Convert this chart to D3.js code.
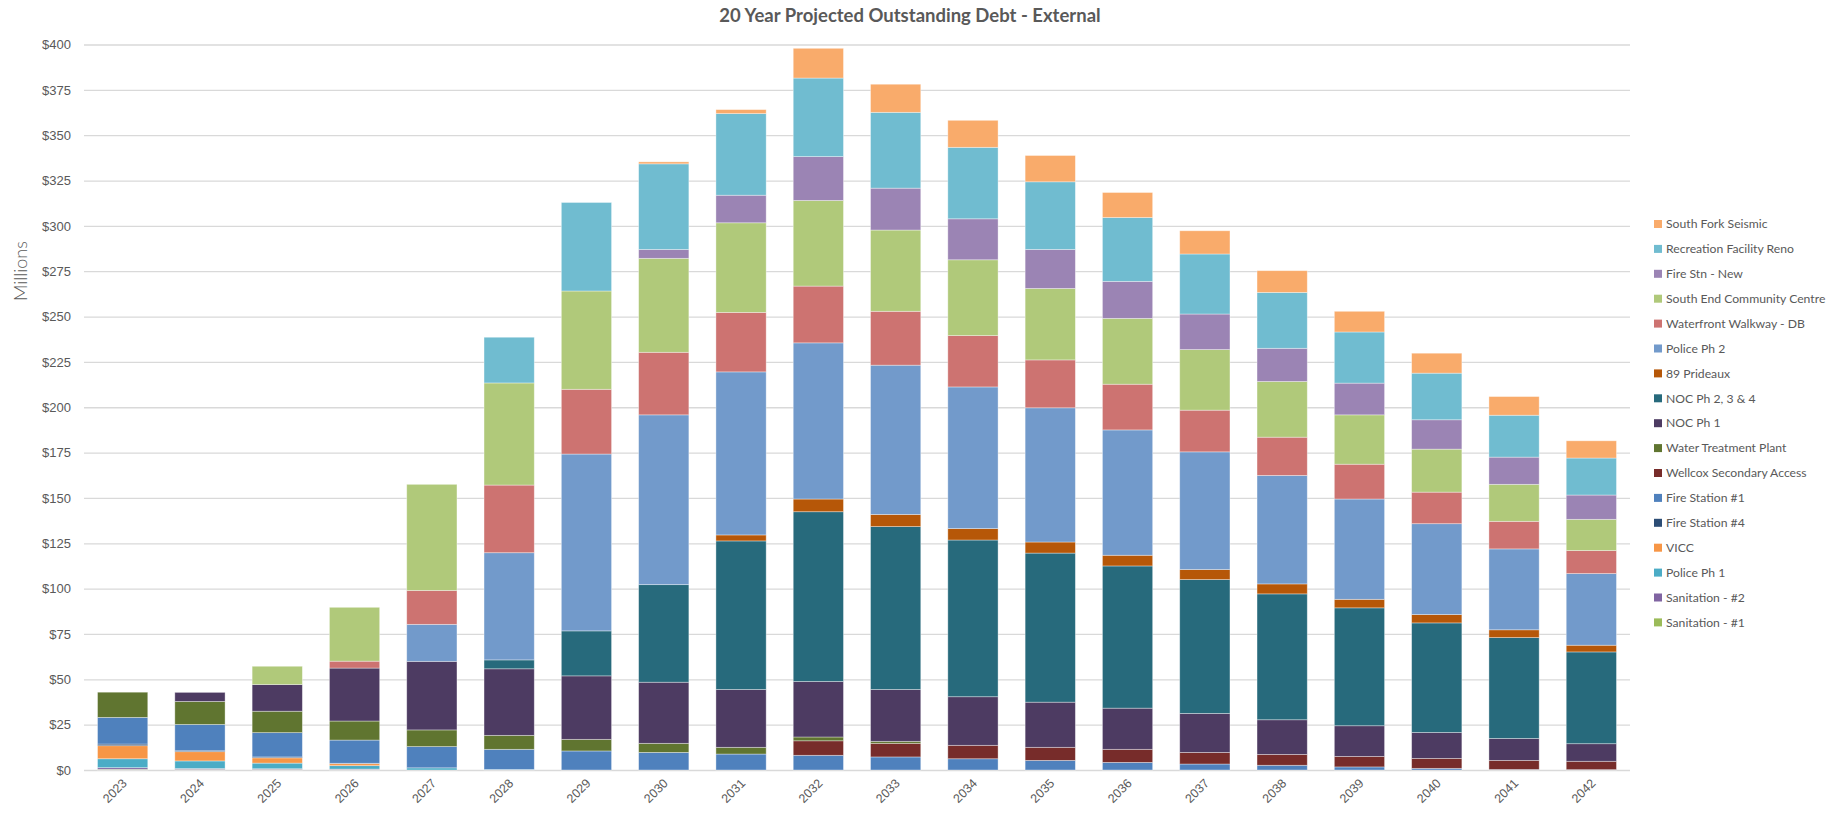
<!DOCTYPE html>
<html>
<head>
<meta charset="utf-8">
<script src="https://cdn.jsdelivr.net/npm/d3@7"></script>
<style>
    body { margin: 0; background: #fff; }
    svg { display: block; font-family: Lato, "Open Sans", sans-serif; }
</style>
</head>
<body>
<div id="chart"></div>
<script>
//Chart data - values in millions of dollars, one per year
var years = ["2023", "2024", "2025", "2026", "2027", "2028", "2029", "2030", "2031", "2032",
             "2033", "2034", "2035", "2036", "2037", "2038", "2039", "2040", "2041", "2042"];

var sanitation1   = [0.4, 0.3, 0.3, 0.2, 0, 0, 0, 0, 0, 0, 0, 0, 0, 0, 0, 0, 0, 0, 0, 0];
var sanitation2   = [0.9, 0.5, 0.4, 0.3, 0, 0, 0, 0, 0, 0, 0, 0, 0, 0, 0, 0, 0, 0, 0, 0];
var policePh1     = [4.9, 4.2, 3.1, 1.9, 1.2, 0.3, 0, 0, 0, 0, 0, 0, 0, 0, 0, 0, 0, 0, 0, 0];
var vicc          = [7.2, 5.1, 2.9, 1.1, 0, 0, 0, 0, 0, 0, 0, 0, 0, 0, 0, 0, 0, 0, 0, 0];
var fireStation4  = [0.9, 0.5, 0.5, 0.2, 0, 0, 0, 0, 0, 0, 0, 0, 0, 0, 0, 0, 0, 0, 0, 0];
var fireStation1  = [14.7, 14.5, 13.4, 12.8, 11.7, 11.1, 10.5, 9.7, 8.8, 8.1, 7.2, 6.2, 5.3, 4.2, 3.3, 2.6, 1.7, 0.9, 0.3, 0.2];
var wellcox       = [0, 0, 0, 0, 0, 0, 0, 0, 0, 8.0, 7.5, 7.4, 7.2, 7.2, 6.4, 6.0, 5.8, 5.5, 5.0, 4.6];
var waterPlant    = [13.9, 12.7, 11.8, 10.5, 9.2, 7.7, 6.4, 5.0, 3.7, 2.1, 1.1, 0, 0, 0, 0, 0, 0, 0, 0, 0];
var nocPh1        = [0, 5.0, 14.7, 29.2, 37.8, 36.7, 35.0, 33.7, 31.9, 30.6, 28.6, 26.8, 24.9, 22.7, 21.5, 19.1, 16.9, 14.3, 12.1, 9.7];
var nocPh234      = [0, 0, 0, 0, 0, 4.9, 24.8, 53.8, 81.9, 93.6, 89.8, 86.4, 82.2, 78.4, 73.8, 69.4, 65.0, 60.4, 55.6, 50.6];
var prideaux89    = [0, 0, 0, 0, 0, 0, 0, 0, 3.3, 7.0, 6.7, 6.3, 6.1, 5.9, 5.5, 5.5, 4.7, 4.6, 4.3, 3.7];
var policePh2     = [0, 0, 0, 0, 20.4, 59.1, 97.5, 93.6, 89.9, 86.1, 82.3, 78.1, 74.0, 69.1, 64.9, 59.8, 55.3, 50.1, 44.6, 39.5];
var waterfront    = [0, 0, 0, 3.8, 18.7, 37.3, 35.7, 34.5, 32.8, 31.3, 29.7, 28.3, 26.4, 25.2, 23.0, 21.1, 19.2, 17.4, 15.2, 12.7];
var southEnd      = [0, 0, 10.1, 29.7, 58.5, 56.3, 54.2, 51.8, 49.4, 47.2, 44.8, 41.8, 39.4, 36.3, 33.4, 30.7, 27.2, 23.7, 20.4, 17.2];
var fireStnNew    = [0, 0, 0, 0, 0, 0, 0, 4.9, 15.2, 24.2, 23.1, 22.6, 21.5, 20.4, 19.6, 18.3, 17.5, 16.2, 15.0, 13.4];
var recReno       = [0, 0, 0, 0, 0, 25.2, 48.8, 47.2, 45.0, 43.3, 41.8, 39.4, 37.3, 35.2, 33.1, 30.8, 28.2, 25.7, 23.1, 20.4];
var southFork     = [0, 0, 0, 0, 0, 0, 0, 1.1, 2.2, 16.4, 15.5, 14.9, 14.5, 13.8, 12.8, 12.0, 11.4, 11.0, 10.3, 9.5];

//Series names in stacking order (bottom to top)
var seriesNames = ["Sanitation - #1", "Sanitation - #2", "Police Ph 1", "VICC", "Fire Station #4",
                   "Fire Station #1", "Wellcox Secondary Access", "Water Treatment Plant", "NOC Ph 1",
                   "NOC Ph 2, 3 & 4", "89 Prideaux", "Police Ph 2", "Waterfront Walkway - DB",
                   "South End Community Centre", "Fire Stn - New", "Recreation Facility Reno", "South Fork Seismic"];
var seriesValues = [sanitation1, sanitation2, policePh1, vicc, fireStation4, fireStation1, wellcox,
                    waterPlant, nocPh1, nocPh234, prideaux89, policePh2, waterfront, southEnd,
                    fireStnNew, recReno, southFork];

var yTicks = [0, 25, 50, 75, 100, 125, 150, 175, 200, 225, 250, 275, 300, 325, 350, 375, 400];

//Colours, same order as the series
var colors = ["#9BBB59", "#8064A2", "#4BACC6", "#F79646", "#2C4D75", "#4F81BD", "#772C2A",
              "#607530", "#4D3B62", "#276A7C", "#B65708", "#729ACB", "#CD7371", "#B0C97A",
              "#9B84B4", "#70BCD0", "#F9AB6B"];

//Layout
var width = 1848, height = 813;
var plot = { left: 84, right: 1630, top: 44.5, bottom: 770 };
var textColor = "#595959";

var svg = d3.select("#chart").append("svg")
    .attr("width", width)
    .attr("height", height);

//Scales
var x = d3.scaleBand()
    .domain(years)
    .range([plot.left, plot.right])
    .paddingInner(0.35)
    .paddingOuter(0.175);

var y = d3.scaleLinear()
    .domain([0, 400])
    .range([plot.bottom, plot.top]);

//Build rows for d3.stack
var rows = years.map(function(year, i) {
    var row = { year: year };
    seriesNames.forEach(function(name, s) { row[name] = seriesValues[s][i]; });
    return row;
});
var stacked = d3.stack().keys(seriesNames)(rows);

//Gridlines and y labels
var yAxis = svg.append("g")
    .attr("transform", "translate(" + plot.left + ",0)")
    .call(d3.axisLeft(y)
        .tickValues(yTicks)
        .tickSize(-(plot.right - plot.left))
        .tickPadding(13)
        .tickFormat(function(d) { return "$" + d; }));
yAxis.select(".domain").remove();
yAxis.selectAll(".tick line").attr("stroke", "#D9D9D9").attr("stroke-width", 1.3);
yAxis.selectAll(".tick text")
    .attr("fill", textColor)
    .style("font-size", "13px");

//Bars
svg.append("g")
    .selectAll("g")
    .data(stacked)
    .join("g")
        .attr("fill", function(d, i) { return colors[i]; })
    .selectAll("rect")
    .data(function(d) { return d.filter(function(p) { return p[1] - p[0] > 0; }); })
    .join("rect")
        .attr("x", function(d) { return x(d.data.year); })
        .attr("y", function(d) { return y(d[1]); })
        .attr("width", x.bandwidth())
        .attr("height", function(d) { return y(d[0]) - y(d[1]); })
        .attr("stroke", "#fff")
        .attr("stroke-opacity", 0.45)
        .attr("stroke-width", 0.8);

//X axis labels, rotated
var xAxis = svg.append("g")
    .attr("transform", "translate(0," + plot.bottom + ")")
    .call(d3.axisBottom(x).tickSize(0).tickPadding(0));
xAxis.select(".domain").remove();
xAxis.selectAll(".tick text")
    .attr("fill", textColor)
    .style("font-size", "12.5px")
    .attr("text-anchor", "end")
    .attr("dy", 0)
    .attr("transform", "translate(5,14) rotate(-45)");

//Title
svg.append("text")
    .attr("x", 910)
    .attr("y", 22)
    .attr("text-anchor", "middle")
    .attr("fill", textColor)
    .style("font-size", "18.5px")
    .style("font-weight", "bold")
    .text("20 Year Projected Outstanding Debt - External");

//Y axis title
svg.append("text")
    .attr("transform", "translate(27,271) rotate(-90)")
    .attr("text-anchor", "middle")
    .attr("fill", textColor)
    .style("font-size", "18px")
    .style("font-weight", 300)
    .text("Millions");

//Legend - top entry is the last series
var legend = svg.append("g")
    .attr("transform", "translate(1654,224)");
var legendItems = legend.selectAll("g")
    .data(seriesNames.slice().reverse())
    .join("g")
        .attr("transform", function(d, i) { return "translate(0," + (i * 24.9) + ")"; });
legendItems.append("rect")
    .attr("x", 0)
    .attr("y", -4)
    .attr("width", 8)
    .attr("height", 8)
    .attr("fill", function(d) { return colors[seriesNames.indexOf(d)]; });
legendItems.append("text")
    .attr("x", 12)
    .attr("y", 0)
    .attr("dy", "0.35em")
    .attr("fill", textColor)
    .style("font-size", "12.2px")
    .text(function(d) { return d; });
</script>
</body>
</html>
